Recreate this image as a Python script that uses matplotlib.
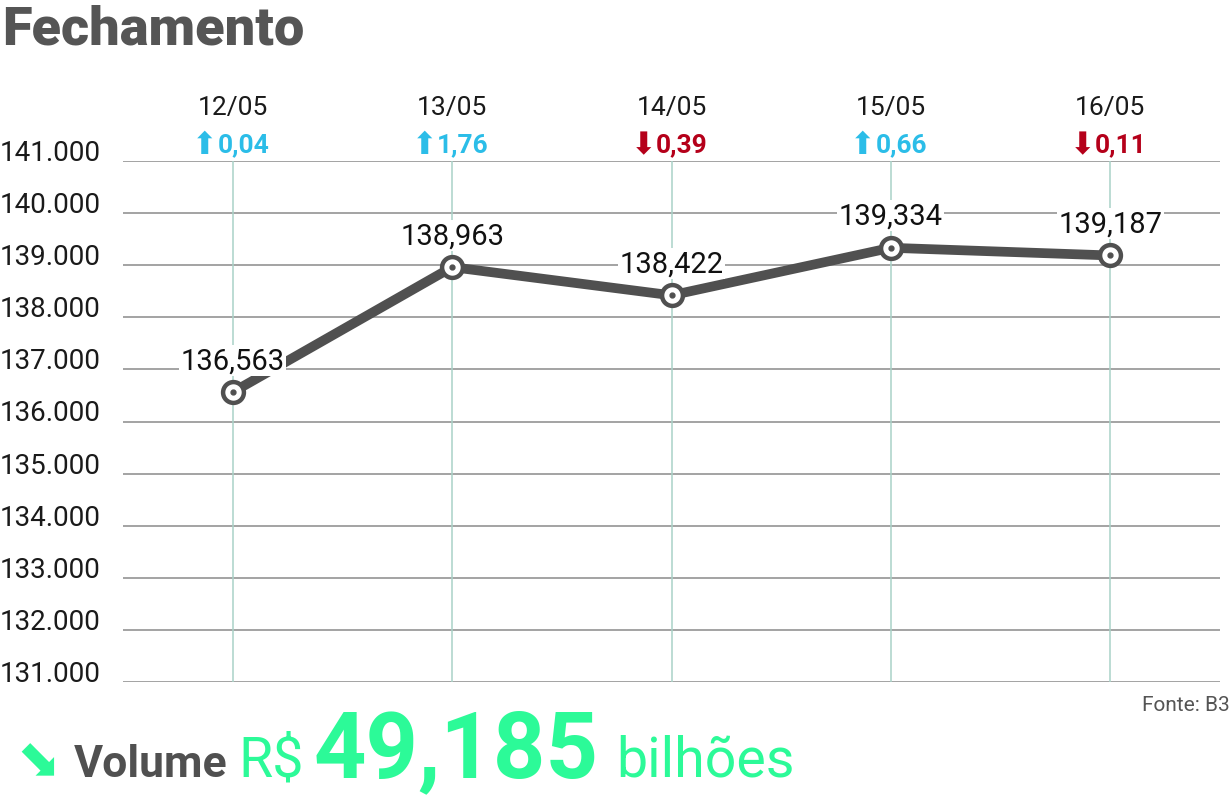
import matplotlib
matplotlib.use("Agg")
import matplotlib.pyplot as plt
import matplotlib.transforms as mtransforms

datas = ["12/05", "13/05", "14/05", "15/05", "16/05"]
fechamento = [136563, 138963, 138422, 139334, 139187]
rotulos = ["136,563", "138,963", "138,422", "139,334", "139,187"]
variacao = ["0,04", "1,76", "0,39", "0,66", "0,11"]
subiu = [True, True, False, True, False]
yticks = [131000, 132000, 133000, 134000, 135000, 136000, 137000, 138000, 139000, 140000, 141000]
ytick_labels = ["131.000", "132.000", "133.000", "134.000", "135.000", "136.000",
                "137.000", "138.000", "139.000", "140.000", "141.000"]
volume = "49,185"

CINZA = "#505050"
AZUL = "#2bbde8"
VERMELHO = "#b5001a"
VERDE = "#2cfa98"
GRADE_V = "#a9d2c8"
GRADE_H = "#8a8a8a"

FONTE = ["Roboto", "DejaVu Sans"]

fig = plt.figure(figsize=(12.32, 8.03), dpi=100)
ax = fig.add_axes([123 / 1232, 1 - 683 / 803, (1220 - 123) / 1232, (683 - 162) / 803])

x = list(range(len(datas)))
ax.set_xlim(-0.5, 4.5)
ax.set_ylim(131000, 141000)

for v in yticks:
    ax.axhline(v, color=GRADE_H, lw=1.1, zorder=1)
for xi in x:
    ax.axvline(xi, color=GRADE_V, lw=1.1, zorder=1)

ax.plot(x, fechamento, color=CINZA, lw=7, solid_capstyle="round", zorder=3)
ax.plot(x, fechamento, "o", ms=15, mfc="white", mec=CINZA, mew=3.2, zorder=4)
ax.plot(x, fechamento, "o", ms=3.5, color=CINZA, zorder=5)

for xi, yi, lab in zip(x, fechamento, rotulos):
    ax.annotate(lab, (xi, yi), xytext=(0, 23), textcoords="offset points",
                ha="center", va="center", fontsize=21, family=FONTE,
                color="#111111", zorder=6,
                bbox=dict(boxstyle="square,pad=0.05", fc="white", ec="none"))

for s in ax.spines.values():
    s.set_visible(False)
ax.set_xticks([])
ax.set_yticks([])

# rótulos do eixo y à esquerda
tr = mtransforms.blended_transform_factory(fig.transFigure, ax.transData)
for v, lab in zip(yticks, ytick_labels):
    ax.text(0.0, v + 20, lab, transform=tr, ha="left", va="baseline",
            fontsize=20, family=FONTE, color="#1a1a1a", clip_on=False)

# datas e variações acima do gráfico
trx = mtransforms.blended_transform_factory(ax.transData, fig.transFigure)
for xi, d, var, up in zip(x, datas, variacao, subiu):
    ax.text(xi, 1 - 108 / 803, d, transform=trx, ha="center", va="center",
            fontsize=19, family=FONTE, color="#1a1a1a")
    cor = AZUL if up else VERMELHO
    seta = "\u2b06" if up else "\u2b07"
    ax.annotate(seta, (xi, 1 - 146 / 803), xycoords=trx, xytext=(-11, 0),
                textcoords="offset points", ha="right", va="center",
                fontsize=22, family=["DejaVu Sans"], color=cor)
    ax.annotate(var, (xi, 1 - 145 / 803), xycoords=trx, xytext=(-11, 0),
                textcoords="offset points", ha="left", va="center",
                fontsize=19, family=FONTE, weight="bold", color=cor)

fig.text(2 / 1232, 1 - 30 / 803, "Fechamento", ha="left", va="center",
         fontsize=39, family=FONTE, weight="black", color="#555555")

fig.text(1230 / 1232, 1 - 706 / 803, "Fonte: B3", ha="right", va="center",
         fontsize=15, family=FONTE, color="#555555")

base = 1 - 777 / 803
fig.text(16 / 1232, base, "\u2b0a", ha="left", va="baseline",
         fontsize=38, family=["DejaVu Sans"], color=VERDE)
fig.text(74 / 1232, base, "Volume", ha="left", va="baseline",
         fontsize=32, family=FONTE, weight="bold", color="#505050")
fig.text(238 / 1232, base, "R$", ha="left", va="baseline",
         fontsize=40, family=FONTE, weight="normal", color=VERDE)
fig.text(314 / 1232, base, volume, ha="left", va="baseline",
         fontsize=66, family=FONTE, weight="bold", color=VERDE)
fig.text(616 / 1232, base, "bilhões", ha="left", va="baseline",
         fontsize=40, family=FONTE, weight="normal", color=VERDE)

fig.savefig("out.png", dpi=100)
